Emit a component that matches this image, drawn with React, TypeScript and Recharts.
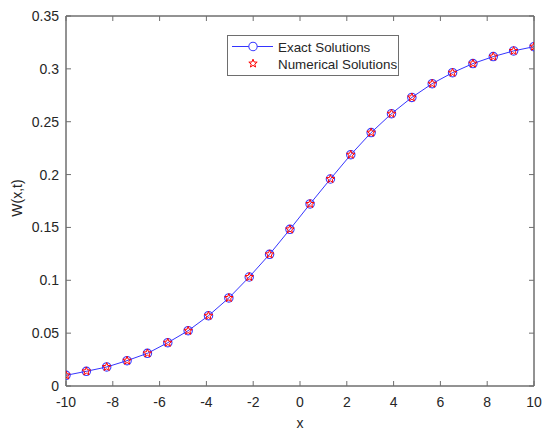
import React from 'react';
import { LineChart, Line, XAxis, YAxis, Legend, ReferenceArea } from 'recharts';

const xValues = [-10, -9.13, -8.26, -7.39, -6.52, -5.65, -4.78, -3.91, -3.04, -2.17, -1.3, -0.43, 0.43, 1.3, 2.17, 3.04, 3.91, 4.78, 5.65, 6.52, 7.39, 8.26, 9.13, 10];
const exactValues = [0.0101, 0.0139, 0.018, 0.024, 0.0309, 0.041, 0.0523, 0.0665, 0.0833, 0.1031, 0.1246, 0.1482, 0.1722, 0.1958, 0.2188, 0.2397, 0.2576, 0.273, 0.286, 0.2964, 0.305, 0.3116, 0.317, 0.321];
const numericalValues = [0.0101, 0.0139, 0.018, 0.024, 0.0309, 0.041, 0.0523, 0.0665, 0.0833, 0.1031, 0.1246, 0.1482, 0.1722, 0.1958, 0.2188, 0.2397, 0.2576, 0.273, 0.286, 0.2964, 0.305, 0.3116, 0.317, 0.321];
const xTicks = [-10, -8, -6, -4, -2, 0, 2, 4, 6, 8, 10];
const yTicks = [0, 0.05, 0.1, 0.15, 0.2, 0.25, 0.3, 0.35];
const seriesNames = ['Exact Solutions', 'Numerical Solutions'];

const data = xValues.map((x, i) => ({ x, exact: exactValues[i], numerical: numericalValues[i] }));

const FONT = '"Liberation Sans", Arial, Helvetica, sans-serif';
const TEXT = '#262626';
const AXIS = '#6e6e6e';
const BLUE = '#0000FF';
const MARK_BLUE = '#3a3aff';
const RED = '#FF0000';

function starPoints(cx: number, cy: number, R: number) {
  const r = R * 0.42;
  const pts: string[] = [];
  for (let k = 0; k < 10; k++) {
    const rad = k % 2 === 0 ? R : r;
    const a = -Math.PI / 2 + (k * Math.PI) / 5;
    pts.push(`${cx + rad * Math.cos(a)},${cy + rad * Math.sin(a)}`);
  }
  return pts.join(' ');
}

const StarDot = (props: any) => {
  const { cx, cy, index } = props;
  if (cx == null || cy == null) return <g key={`s${index}`} />;
  return <polygon key={`s${index}`} points={starPoints(cx, cy, 4.4)} fill="none" stroke={RED} strokeWidth={1} />;
};

const LegendBox = () => (
  <svg width={172} height={41} style={{ display: 'block' }}>
    <rect x={0.5} y={0.5} width={171} height={40} fill="#fff" stroke={AXIS} strokeWidth={1} />
    <line x1={5} x2={46} y1={11.5} y2={11.5} stroke={BLUE} strokeWidth={0.8} />
    <circle cx={26} cy={11.5} r={4.2} fill="#fff" stroke={MARK_BLUE} strokeWidth={1.1} />
    <text x={51} y={16.5} fontSize={13.4} fill={TEXT} fontFamily={FONT}>{seriesNames[0]}</text>
    <polygon points={starPoints(26, 28.5, 4.4)} fill="none" stroke={RED} strokeWidth={1} />
    <text x={51} y={33.5} fontSize={13.4} fill={TEXT} fontFamily={FONT}>{seriesNames[1]}</text>
  </svg>
);

const emptyTick = () => <g />;

export default function App() {
  return (
    <div style={{ position: 'absolute', left: 0, top: 0, width: 542, height: 430, background: '#fff', fontFamily: FONT }}>
      <LineChart width={542} height={430} data={data} margin={{ top: 15, right: 7, left: 0, bottom: 0 }}>
        <ReferenceArea x1={-10} x2={10} y1={0} y2={0.35} fill="none" stroke={AXIS} strokeWidth={1} ifOverflow="visible" />
        <XAxis
          dataKey="x"
          type="number"
          domain={[-10, 10]}
          ticks={xTicks}
          allowDataOverflow
          height={44}
          tickSize={-5}
          tickMargin={16}
          stroke={AXIS}
          tick={{ fill: TEXT, fontSize: 14, fontFamily: FONT }}
          interval={0}
          label={{
            content: (p: any) => {
              const vb = p.viewBox || { x: 66, y: 386, width: 468, height: 44 };
              return (
                <text x={vb.x + vb.width / 2} y={vb.y + vb.height - 2} textAnchor="middle" fontSize={14} fill={TEXT} fontFamily={FONT}>x</text>
              );
            },
          }}
        />
        <XAxis
          xAxisId="top"
          dataKey="x"
          type="number"
          orientation="top"
          domain={[-10, 10]}
          ticks={xTicks}
          allowDataOverflow
          height={1}
          tickSize={-5}
          stroke={AXIS}
          tick={emptyTick}
          interval={0}
        />
        <YAxis
          type="number"
          domain={[0, 0.35]}
          ticks={yTicks}
          allowDataOverflow
          width={66}
          tickSize={-5}
          tickMargin={12}
          stroke={AXIS}
          tick={{ fill: TEXT, fontSize: 14, fontFamily: FONT }}
          interval={0}
          label={{
            content: (p: any) => {
              const vb = p.viewBox || { x: 0, y: 16, width: 66, height: 370 };
              const cx = 17;
              const cy = vb.y + vb.height / 2 - 3;
              return (
                <text x={cx} y={cy} transform={`rotate(-90, ${cx}, ${cy})`} textAnchor="middle" dy="0.35em" fontSize={14} fill={TEXT} fontFamily={FONT}>W(x,t)</text>
              );
            },
          }}
        />
        <YAxis
          yAxisId="right"
          orientation="right"
          type="number"
          domain={[0, 0.35]}
          ticks={yTicks}
          allowDataOverflow
          width={1}
          tickSize={-5}
          stroke={AXIS}
          tick={emptyTick}
          interval={0}
        />
        <Legend
          layout="horizontal"
          verticalAlign="middle"
          align="center"
          wrapperStyle={{ position: 'absolute', left: 227, top: 35, width: 172, height: 41 }}
          content={() => <LegendBox />}
        />
        <Line
          dataKey="exact"
          name={seriesNames[0]}
          stroke={BLUE}
          strokeWidth={0.8}
          dot={{ r: 4.2, stroke: MARK_BLUE, fill: 'none', strokeWidth: 1.1 }}
          activeDot={false}
          isAnimationActive={false}
        />
        <Line
          dataKey="numerical"
          name={seriesNames[1]}
          stroke="none"
          dot={StarDot}
          activeDot={false}
          isAnimationActive={false}
        />
      </LineChart>
    </div>
  );
}
